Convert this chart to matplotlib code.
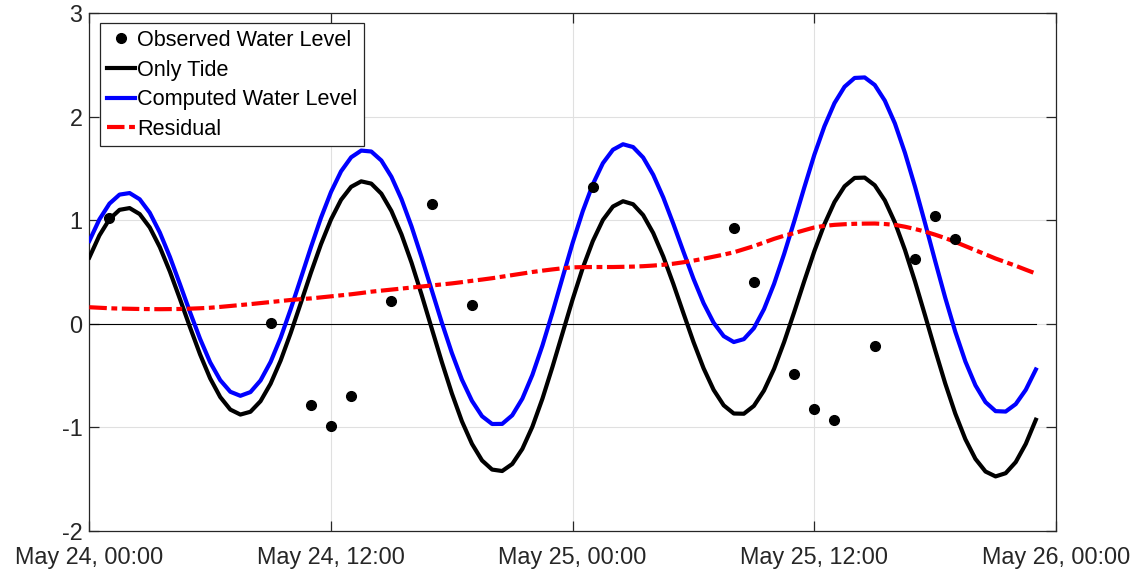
import matplotlib
matplotlib.use("Agg")
import matplotlib.pyplot as plt
import numpy as np
import datetime as dt

plt.rcParams['font.family'] = ['Liberation Sans', 'DejaVu Sans']
plt.rcParams['axes.unicode_minus'] = False

# ---- data: half-hourly readings, hours after May 24, 00:00 ----
hours = np.arange(0, 47.5, 0.5)
only_tide = [0.640, 0.853, 1.010, 1.100, 1.117, 1.059, 0.930, 0.740, 0.504, 0.239,
             -0.034, -0.296, -0.527, -0.707, -0.828, -0.876, -0.849, -0.747, -0.578, -0.354,
             -0.088, 0.200, 0.492, 0.767, 1.007, 1.197, 1.322, 1.375, 1.353, 1.256,
             1.089, 0.863, 0.589, 0.280, -0.044, -0.367, -0.671, -0.941, -1.159, -1.319,
             -1.407, -1.421, -1.353, -1.208, -0.993, -0.722, -0.414, -0.088, 0.237, 0.539,
             0.798, 1.002, 1.132, 1.183, 1.154, 1.049, 0.876, 0.649, 0.384, 0.102,
             -0.176, -0.429, -0.638, -0.787, -0.866, -0.868, -0.792, -0.644, -0.435, -0.176,
             0.113, 0.412, 0.701, 0.961, 1.175, 1.327, 1.408, 1.411, 1.337, 1.191,
             0.979, 0.713, 0.408, 0.080, -0.254, -0.576, -0.867, -1.114, -1.304, -1.426,
             -1.473, -1.442, -1.335, -1.159, -0.926]
residual = [0.160, 0.155, 0.150, 0.147, 0.145, 0.143, 0.142, 0.141, 0.142, 0.143,
            0.146, 0.150, 0.155, 0.163, 0.172, 0.181, 0.190, 0.200, 0.210, 0.220,
            0.230, 0.238, 0.245, 0.255, 0.265, 0.275, 0.285, 0.297, 0.310, 0.320,
            0.330, 0.340, 0.350, 0.360, 0.370, 0.380, 0.390, 0.402, 0.415, 0.427,
            0.440, 0.455, 0.470, 0.485, 0.500, 0.513, 0.525, 0.536, 0.545, 0.547,
            0.548, 0.548, 0.548, 0.550, 0.552, 0.556, 0.562, 0.570, 0.580, 0.594,
            0.610, 0.628, 0.648, 0.668, 0.690, 0.720, 0.750, 0.785, 0.820, 0.850,
            0.875, 0.903, 0.930, 0.945, 0.955, 0.961, 0.965, 0.967, 0.968, 0.963,
            0.955, 0.937, 0.915, 0.890, 0.860, 0.827, 0.790, 0.750, 0.710, 0.670,
            0.630, 0.595, 0.560, 0.522, 0.485]
computed = [0.800, 1.008, 1.160, 1.247, 1.262, 1.202, 1.072, 0.881, 0.646, 0.382,
            0.112, -0.146, -0.372, -0.544, -0.656, -0.695, -0.659, -0.547, -0.368, -0.134,
            0.142, 0.438, 0.737, 1.022, 1.272, 1.472, 1.607, 1.672, 1.663, 1.576,
            1.419, 1.203, 0.939, 0.640, 0.326, 0.013, -0.281, -0.539, -0.744, -0.892,
            -0.967, -0.966, -0.883, -0.723, -0.493, -0.209, 0.111, 0.448, 0.782, 1.086,
            1.346, 1.550, 1.680, 1.733, 1.706, 1.605, 1.438, 1.219, 0.964, 0.696,
            0.434, 0.199, 0.010, -0.119, -0.176, -0.148, -0.042, 0.141, 0.385, 0.674,
            0.988, 1.315, 1.631, 1.906, 2.130, 2.288, 2.373, 2.378, 2.305, 2.154,
            1.934, 1.650, 1.323, 0.970, 0.606, 0.251, -0.077, -0.364, -0.594, -0.756,
            -0.843, -0.847, -0.775, -0.637, -0.441]
obs_hours = [1, 9, 11, 12, 13, 15, 17, 19, 25, 32, 33, 35, 36, 37, 39, 41, 42, 43]
observed = [1.023, 0.009, -0.787, -0.990, -0.700, 0.217, 1.152, 0.183, 1.323,
            0.927, 0.405, -0.481, -0.822, -0.926, -0.211, 0.630, 1.039, 0.820]

xtick_labels = ["May 24, 00:00", "May 24, 12:00", "May 25, 00:00",
                "May 25, 12:00", "May 26, 00:00"]
yticks = [-2, -1, 0, 1, 2, 3]

t0 = dt.datetime(2021, 5, 24, 0, 0)
t = [t0 + dt.timedelta(hours=float(h)) for h in hours]
to = [t0 + dt.timedelta(hours=h) for h in obs_hours]

fig = plt.figure(figsize=(11.41, 5.77), dpi=100)
ax = fig.add_axes([0.0783, 0.0797, 0.8472, 0.8978])

ax.plot([t[0], t[-1]], [0, 0], color='black', lw=0.8, zorder=2)
l_obs, = ax.plot(to, observed, 'o', color='black', ms=7, zorder=5,
                 label='Observed Water Level')
l_tide, = ax.plot(t, only_tide, color='black', lw=3, zorder=3, label='Only Tide')
l_comp, = ax.plot(t, computed, color=(0, 0, 1), lw=3, zorder=3,
                  label='Computed Water Level')
l_res, = ax.plot(t, residual, color=(1, 0, 0), lw=3, zorder=4,
                 linestyle=(0, (4.2, 1.1, 1.4, 1.1)), label='Residual')

xt = [t0 + dt.timedelta(hours=12 * i) for i in range(5)]
ax.set_xlim(xt[0], xt[-1])
ax.set_xticks(xt)
ax.set_xticklabels(xtick_labels)
ax.set_ylim(-2, 3)
ax.set_yticks(yticks)
ax.set_yticklabels([str(v) for v in yticks])

ax.grid(True, color=(0.88, 0.88, 0.88), lw=0.8)
ax.set_axisbelow(True)
for s in ax.spines.values():
    s.set_color((0.15, 0.15, 0.15))
    s.set_linewidth(0.9)
ax.tick_params(direction='in', length=7, width=0.9, top=True, right=True,
               colors=(0.15, 0.15, 0.15), labelsize=16.8)
ax.tick_params(axis='x', pad=11)
ax.tick_params(axis='y', pad=5)
for lab in ax.get_xticklabels() + ax.get_yticklabels():
    lab.set_color((0.15, 0.15, 0.15))

leg = ax.legend(handles=[l_obs, l_tide, l_comp, l_res], loc='upper left',
                bbox_to_anchor=(0.0114, 0.98), fontsize=15.6, frameon=True,
                fancybox=False, edgecolor=(0.15, 0.15, 0.15), framealpha=1,
                handlelength=1.3, handletextpad=0.1, borderpad=0.3,
                labelspacing=0.4, borderaxespad=0.0)
leg.get_frame().set_linewidth(0.9)

fig.savefig('out.png', dpi=100)
